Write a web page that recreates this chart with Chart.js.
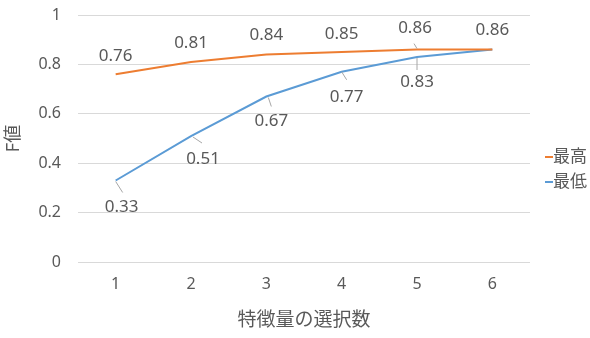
<!DOCTYPE html>
<html>
<head>
<meta charset="utf-8">
<script src="https://cdn.jsdelivr.net/npm/chart.js@4.4.1/dist/chart.umd.min.js"></script>
<style>
  html, body { margin: 0; padding: 0; background: #ffffff; }
  #wrap { width: 590px; height: 338px; }
</style>
</head>
<body>
<div id="wrap"><canvas id="chart" width="590" height="338"></canvas></div>
<script>
// ---- data ----
const categories = ['1', '2', '3', '4', '5', '6'];
const seriesNames = ['最高', '最低'];
const highValues = [0.76, 0.81, 0.84, 0.85, 0.86, 0.86];
const lowValues  = [0.33, 0.51, 0.67, 0.77, 0.83, 0.86];
const yTickValues = [0, 0.2, 0.4, 0.6, 0.8, 1];
const xTitle = '特徴量の選択数';
const yTitle = 'F値';

// ---- styling ----
const FONT = "'Noto Sans', 'Noto Sans CJK JP', sans-serif";
const TEXT = '#595959';
const ORANGE = '#ED7D31';
const BLUE = '#5B9BD5';

// label placement per point: offset of label centre from the point,
// optional leader segment [x0, y0, x1, y1] relative to the point
const highLabelStyle = [
  { dx: 0, dy: -18 }, { dx: 0, dy: -19 }, { dx: 0, dy: -19 },
  { dx: 0, dy: -18 }, { dx: -2, dy: -21, lead: [0, -1, -3, -6] }, { dx: 0, dy: -19 }
];
const lowLabelStyle = [
  { dx: 6, dy: 27, lead: [0, 1, 7, 12] },
  { dx: 12, dy: 23, lead: [2, 1, 11, 7] },
  { dx: 5, dy: 25, lead: [2, 1, 5, 10] },
  { dx: 5, dy: 25, lead: [0, 0, 5, 8] },
  { dx: 0, dy: 25, lead: [0, 1, 0, 13] },
  { hidden: true }
];

const labelPlugin = {
  id: 'pointLabels',
  afterDatasetsDraw(chart) {
    const ctx = chart.ctx;
    const styles = [highLabelStyle, lowLabelStyle];
    ctx.save();
    ctx.font = '17px ' + FONT;
    ctx.textAlign = 'center';
    ctx.textBaseline = 'middle';
    chart.data.datasets.forEach((ds, di) => {
      const meta = chart.getDatasetMeta(di);
      meta.data.forEach((pt, i) => {
        const st = styles[di][i];
        if (!st || st.hidden) return;
        if (st.lead) {
          ctx.strokeStyle = '#A6A6A6';
          ctx.lineWidth = 1;
          ctx.beginPath();
          ctx.moveTo(pt.x + st.lead[0], pt.y + st.lead[1]);
          ctx.lineTo(pt.x + st.lead[2], pt.y + st.lead[3]);
          ctx.stroke();
        }
        ctx.fillStyle = TEXT;
        ctx.fillText(ds.data[i].toFixed(2), pt.x + st.dx, pt.y + st.dy);
      });
    });
    ctx.restore();
  }
};

const legendPlugin = {
  id: 'sideLegend',
  afterDraw(chart) {
    const ctx = chart.ctx;
    const x = chart.chartArea.right + 15;
    const rows = [157, 182];
    ctx.save();
    ctx.font = '17px ' + FONT;
    ctx.textAlign = 'left';
    ctx.textBaseline = 'middle';
    chart.data.datasets.forEach((ds, i) => {
      const y = rows[i];
      ctx.strokeStyle = ds.borderColor;
      ctx.lineWidth = 2;
      ctx.beginPath();
      ctx.moveTo(x, y);
      ctx.lineTo(x + 8, y);
      ctx.stroke();
      ctx.fillStyle = TEXT;
      ctx.fillText(ds.label, x + 8, y);
    });
    ctx.restore();
  }
};

new Chart(document.getElementById('chart'), {
  type: 'line',
  data: {
    labels: categories,
    datasets: [
      { label: seriesNames[0], data: highValues, borderColor: ORANGE, backgroundColor: ORANGE,
        borderWidth: 2, pointRadius: 0, tension: 0 },
      { label: seriesNames[1], data: lowValues, borderColor: BLUE, backgroundColor: BLUE,
        borderWidth: 2, pointRadius: 0, tension: 0 }
    ]
  },
  options: {
    responsive: false,
    animation: false,
    devicePixelRatio: 1,
    layout: { padding: { top: 15, right: 60, bottom: 0, left: 0 } },
    plugins: { legend: { display: false }, tooltip: { enabled: false } },
    scales: {
      x: {
        offset: true,
        grid: { display: false, drawTicks: false },
        border: { display: false },
        ticks: { font: { family: FONT, size: 16 }, color: TEXT, padding: 13 },
        title: { display: true, text: xTitle, color: TEXT,
                 font: { family: FONT, size: 19 }, padding: { top: 0, bottom: 6 } },
        afterFit(scale) { scale.height = 76; }
      },
      y: {
        min: 0,
        max: 1,
        afterBuildTicks(scale) { scale.ticks = yTickValues.map(v => ({ value: v })); },
        grid: { color: '#D9D9D9', lineWidth: 1, drawTicks: true, tickLength: 17,
                tickColor: 'rgba(0,0,0,0)' },
        border: { display: false },
        ticks: { font: { family: FONT, size: 16 }, color: TEXT, padding: 0,
                 callback: v => String(v) },
        title: { display: true, text: yTitle, color: TEXT,
                 font: { family: FONT, size: 18 }, padding: { top: 3, bottom: 0 } },
        afterFit(scale) { scale.width = 78; }
      }
    }
  },
  plugins: [labelPlugin, legendPlugin]
});
</script>
</body>
</html>
